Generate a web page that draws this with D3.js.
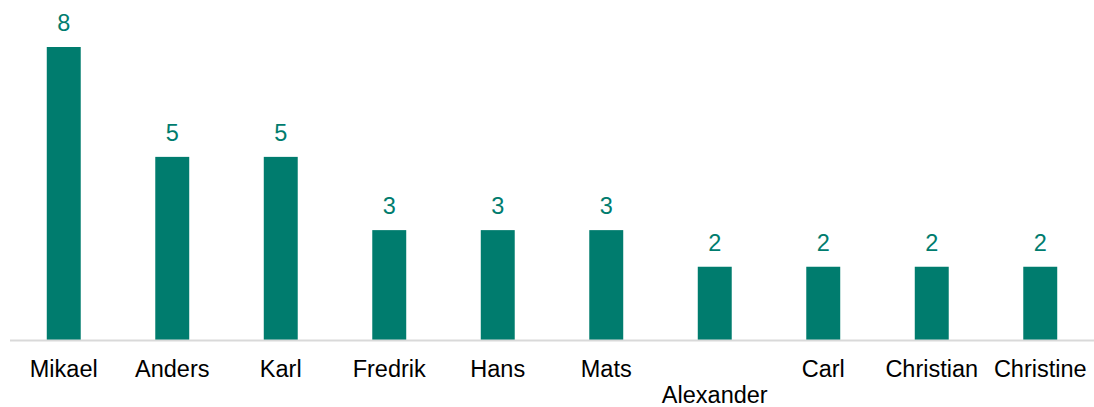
<!DOCTYPE html>
<html>
<head>
<meta charset="utf-8">
<script src="https://cdn.jsdelivr.net/npm/d3@7"></script>
<style>
	body { margin: 0; background: #fff; }
	text { font-family: "Liberation Sans", Arial, sans-serif; }
</style>
</head>
<body>
<div id="svg-container"></div>
<script>
// DATA
const names = ["Mikael", "Anders", "Karl", "Fredrik", "Hans", "Mats", "Alexander", "Carl", "Christian", "Christine"];
const counts = [8, 5, 5, 3, 3, 3, 2, 2, 2, 2];
// labels pushed to a second row to avoid overlap
const lowered = ["Alexander"];


// BAR CHART
function graphData() {
	const w = 1094;
	const h = 407;
	const baseY = 340;
	const topY = 47;
	const color = "#007C6E";

	const data = names.map((n, i) => ({ name: n, value: counts[i] }));

	// x-scale
	const xScale = d3.scaleBand()
		.domain(names)
		.range([9.5, 1094.5])
		.paddingInner(0.687)
		.paddingOuter(0.3435);
	// y-scale
	const yScale = d3.scaleLinear()
		.domain([0, 8])
		.range([baseY, topY]);

	// svg
	const svg = d3.select("#svg-container")
		.append("svg")
		.attr("width", w)
		.attr("height", h);

	// bars
	svg.selectAll("rect.bar")
		.data(data)
		.enter()
		.append("rect")
		.attr("class", "bar")
		.attr("x", d => xScale(d.name))
		.attr("y", d => yScale(d.value))
		.attr("width", xScale.bandwidth())
		.attr("height", d => baseY - yScale(d.value))
		.style("fill", color);

	// value labels
	svg.selectAll("text.val")
		.data(data)
		.enter()
		.append("text")
		.attr("class", "val")
		.attr("x", d => xScale(d.name) + xScale.bandwidth() / 2)
		.attr("y", d => yScale(d.value) - 16)
		.attr("text-anchor", "middle")
		.style("font-size", "23.5px")
		.style("fill", color)
		.text(d => d.value);

	// x-axis
	const xAxis = d3.axisBottom(xScale).tickSize(0).tickPadding(0);
	const gx = svg.append("g")
		.attr("id", "x-axis")
		.attr("transform", `translate(0, ${baseY})`)
		.call(xAxis);
	gx.select(".domain")
		.attr("stroke", "#d9d9d9")
		.attr("stroke-width", 2);
	gx.selectAll(".tick text")
		.attr("dy", 0)
		.attr("y", d => lowered.includes(d) ? 63 : 37)
		.style("font-size", "23.5px")
		.style("fill", "#000")
		.style("font-family", "'Liberation Sans', Arial, sans-serif");
}

document.addEventListener('DOMContentLoaded', () => {
	graphData();
});
</script>
</body>
</html>
